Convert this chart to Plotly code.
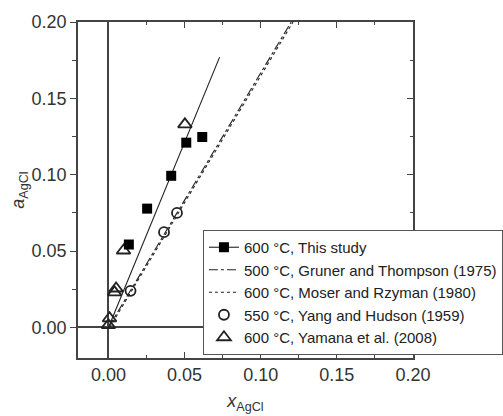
import plotly.graph_objects as go

# Data
study_x = [0.0134, 0.0254, 0.0412, 0.0511, 0.0616]
study_y = [0.0543, 0.0778, 0.0993, 0.1210, 0.1247]
fit_x = [0.0, 0.073]
fit_y = [0.0, 0.177]
gruner_x = [0.0, 0.1200]
gruner_y = [0.0, 0.2000]
moser_x = [0.0008, 0.1212]
moser_y = [0.0, 0.2000]
yang_x = [0.0145, 0.0365, 0.0450]
yang_y = [0.0240, 0.0624, 0.0750]
yamana_x = [0.0, 0.0007, 0.0040, 0.0050, 0.0099, 0.0502]
yamana_y = [0.0015, 0.0060, 0.0230, 0.0255, 0.0504, 0.1330]

names = [
    "600 °C, This study",
    "500 °C, Gruner and Thompson (1975)",
    "600 °C, Moser and Rzyman (1980)",
    "550 °C, Yang and Hudson (1959)",
    "600 °C, Yamana et al. (2008)",
]

ink = "#222222"
axc = "#444444"
fig = go.Figure()

fig.add_trace(go.Scatter(x=fit_x, y=fit_y, mode="lines", line=dict(color=ink, width=1.1),
                         showlegend=False, hoverinfo="skip"))
fig.add_trace(go.Scatter(x=gruner_x, y=gruner_y, mode="lines", name=names[1],
                         line=dict(color=ink, width=1.1, dash="dashdot"), legendrank=2))
fig.add_trace(go.Scatter(x=moser_x, y=moser_y, mode="lines", name=names[2],
                         line=dict(color=ink, width=1.1, dash="dot"), legendrank=3))
fig.add_trace(go.Scatter(x=yang_x, y=yang_y, mode="markers", name=names[3],
                         marker=dict(symbol="circle-open", size=10, color=ink, line=dict(width=1.8)),
                         legendrank=4))
fig.add_trace(go.Scatter(x=yamana_x, y=yamana_y, mode="markers", name=names[4],
                         marker=dict(symbol="triangle-up-open", size=12, color=ink, line=dict(width=1.8)),
                         legendrank=5))
fig.add_trace(go.Scatter(x=study_x, y=study_y, mode="markers", showlegend=False,
                         marker=dict(symbol="square", size=10, color="#000000")))
fig.add_trace(go.Scatter(x=[None], y=[None], mode="lines+markers", name=names[0],
                         line=dict(color=ink, width=1.1),
                         marker=dict(symbol="square", size=10, color="#000000"),
                         legendrank=1))
# right axis carrier (inward ticks)
fig.add_trace(go.Scatter(x=[None], y=[None], yaxis="y2", showlegend=False, hoverinfo="skip"))

tickfont = dict(family="Liberation Sans, Arial, sans-serif", size=18, color="#333333")

fig.update_layout(
    width=503, height=416,
    margin=dict(l=78, r=90, t=22, b=58, autoexpand=False),
    paper_bgcolor="white", plot_bgcolor="white",
    font=dict(family="Liberation Sans, Arial, sans-serif", color="#333333"),
    xaxis=dict(
        range=[-0.02, 0.20], tickvals=[0.0, 0.05, 0.10, 0.15, 0.20],
        ticktext=["0.00", "0.05", "0.10", "0.15", "0.20"],
        ticks="inside", ticklen=6, tickwidth=1.3, tickcolor=axc,
        minor=dict(ticks="inside", dtick=0.025, tick0=0, ticklen=3, tickwidth=1.3, tickcolor=axc, showgrid=False),
        showline=True, linecolor=axc, linewidth=1.5, mirror="ticks",
        showgrid=False, zeroline=True, zerolinecolor=axc, zerolinewidth=1.5,
        tickfont=tickfont,
        title=dict(text="<i>x</i><sub>AgCl</sub>", font=dict(size=18, color="#333333"), standoff=10),
    ),
    yaxis=dict(
        range=[-0.02, 0.20], tickvals=[0.0, 0.05, 0.10, 0.15, 0.20],
        ticktext=["0.00", "0.05", "0.10", "0.15", "0.20"],
        ticks="outside", ticklen=6, tickwidth=1.3, tickcolor=axc,
        minor=dict(ticks="outside", dtick=0.025, tick0=0, ticklen=4, tickwidth=1.3, tickcolor=axc, showgrid=False),
        showline=True, linecolor=axc, linewidth=1.5,
        showgrid=False, zeroline=True, zerolinecolor=axc, zerolinewidth=1.5,
        tickfont=tickfont,
        title=dict(text="<i>a</i><sub>AgCl</sub>", font=dict(size=18, color="#333333"), standoff=2),
    ),
    yaxis2=dict(
        overlaying="y", side="right", range=[-0.02, 0.20],
        tickvals=[0.0, 0.05, 0.10, 0.15, 0.20], showticklabels=False,
        ticks="inside", ticklen=6, tickwidth=1.3, tickcolor=axc,
        minor=dict(ticks="inside", dtick=0.025, tick0=0, ticklen=3, tickwidth=1.3, tickcolor=axc, showgrid=False),
        showline=True, linecolor=axc, linewidth=1.5, showgrid=False, zeroline=False,
    ),
    legend=dict(
        x=0.373, y=0.381, xanchor="left", yanchor="top",
        bordercolor="#555555", borderwidth=1, bgcolor="white",
        font=dict(size=15, color="#222222"),
        tracegroupgap=0,
    ),
    showlegend=True,
)

fig.write_html("out.html")
